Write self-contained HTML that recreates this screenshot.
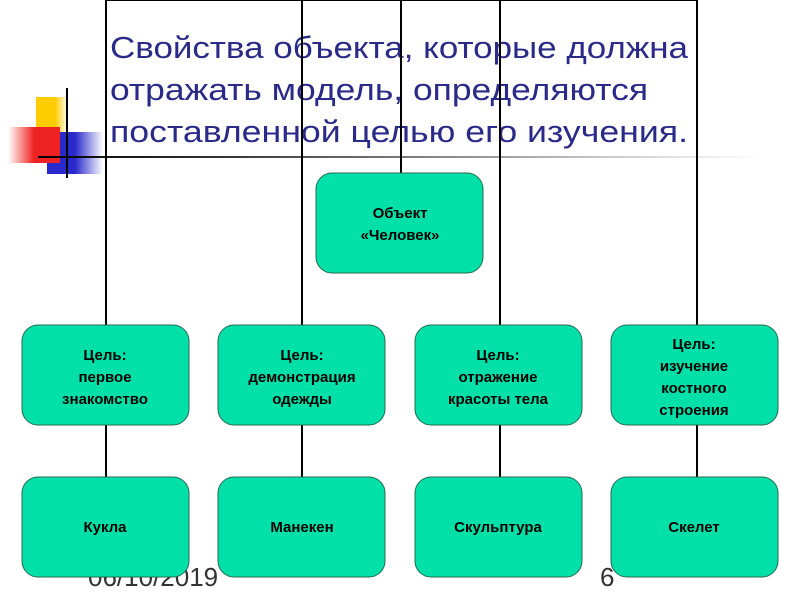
<!DOCTYPE html>
<html><head><meta charset="utf-8"><style>
body{margin:0;background:#fff;width:800px;height:600px;overflow:hidden}
</style></head><body>
<svg width="800" height="600" xmlns="http://www.w3.org/2000/svg">
<defs>
<linearGradient id="hl" x1="0" x2="1" y1="0" y2="0"><stop offset="0" stop-color="#000"/><stop offset="0.25" stop-color="#333"/><stop offset="0.8" stop-color="#ccc"/><stop offset="1" stop-color="#fff"/></linearGradient>
<linearGradient id="yg" x1="0" x2="1"><stop offset="0.6" stop-color="#ffcc00"/><stop offset="1" stop-color="#fff"/></linearGradient>
<linearGradient id="rg" x1="1" x2="0"><stop offset="0.5" stop-color="#ee2222"/><stop offset="1" stop-color="#fff"/></linearGradient>
<linearGradient id="bg" x1="0" x2="1"><stop offset="0.5" stop-color="#2a2acc"/><stop offset="1" stop-color="#fff"/></linearGradient>
</defs>
<rect x="36" y="97" width="32" height="36" fill="url(#yg)"/>
<rect x="47" y="132" width="56" height="42" fill="url(#bg)"/>
<rect x="8" y="127" width="52" height="36" fill="url(#rg)"/>
<rect x="38" y="156" width="722" height="2" fill="url(#hl)"/>
<line x1="67" y1="88" x2="67" y2="178" stroke="#000" stroke-width="2"/>
<g font-family="Liberation Sans, sans-serif" font-size="31" fill="#2a2a88">
<text x="110" y="58" textLength="578" lengthAdjust="spacingAndGlyphs">Свойства объекта, которые должна</text>
<text x="110" y="100" textLength="538" lengthAdjust="spacingAndGlyphs">отражать модель, определяются</text>
<text x="110" y="142" textLength="578" lengthAdjust="spacingAndGlyphs">поставленной целью его изучения.</text>
</g>
<g stroke="#000" stroke-width="2">
<line x1="106" y1="0" x2="106" y2="325"/>
<line x1="302" y1="0" x2="302" y2="325"/>
<line x1="401" y1="0" x2="401" y2="173"/>
<line x1="500" y1="0" x2="500" y2="325"/>
<line x1="697" y1="0" x2="697" y2="325"/>
<line x1="106" y1="0" x2="697" y2="0"/>
<line x1="106" y1="425" x2="106" y2="477"/>
<line x1="302" y1="425" x2="302" y2="477"/>
<line x1="500" y1="425" x2="500" y2="477"/>
<line x1="697" y1="425" x2="697" y2="477"/>
</g>
<g font-family="Liberation Sans, sans-serif" font-size="26" fill="#333">
<text x="88" y="586">06/10/2019</text>
<text x="600" y="586">6</text>
</g>
<g fill="#00e0a8" stroke="#2a6a50" stroke-width="1">
<rect x="316" y="173" width="167" height="100" rx="16"/>
<rect x="22" y="325" width="167" height="100" rx="16"/>
<rect x="218" y="325" width="167" height="100" rx="16"/>
<rect x="415" y="325" width="167" height="100" rx="16"/>
<rect x="611" y="325" width="167" height="100" rx="16"/>
<rect x="22" y="477" width="167" height="100" rx="16"/>
<rect x="218" y="477" width="167" height="100" rx="16"/>
<rect x="415" y="477" width="167" height="100" rx="16"/>
<rect x="611" y="477" width="167" height="100" rx="16"/>
</g>
<g font-family="Liberation Sans, sans-serif" font-size="15" font-weight="bold" fill="#000" text-anchor="middle">
<text x="400" y="218">Объект</text><text x="400" y="240">«Человек»</text>
<text x="105" y="360">Цель:</text><text x="105" y="382">первое</text><text x="105" y="404">знакомство</text>
<text x="302" y="360">Цель:</text><text x="302" y="382">демонстрация</text><text x="302" y="404">одежды</text>
<text x="498" y="360">Цель:</text><text x="498" y="382">отражение</text><text x="498" y="404">красоты тела</text>
<text x="694" y="349">Цель:</text><text x="694" y="371">изучение</text><text x="694" y="393">костного</text><text x="694" y="415">строения</text>
<text x="105" y="532">Кукла</text><text x="302" y="532">Манекен</text><text x="498" y="532">Скульптура</text><text x="694" y="532">Скелет</text>
</g>
</svg>
</body></html>
